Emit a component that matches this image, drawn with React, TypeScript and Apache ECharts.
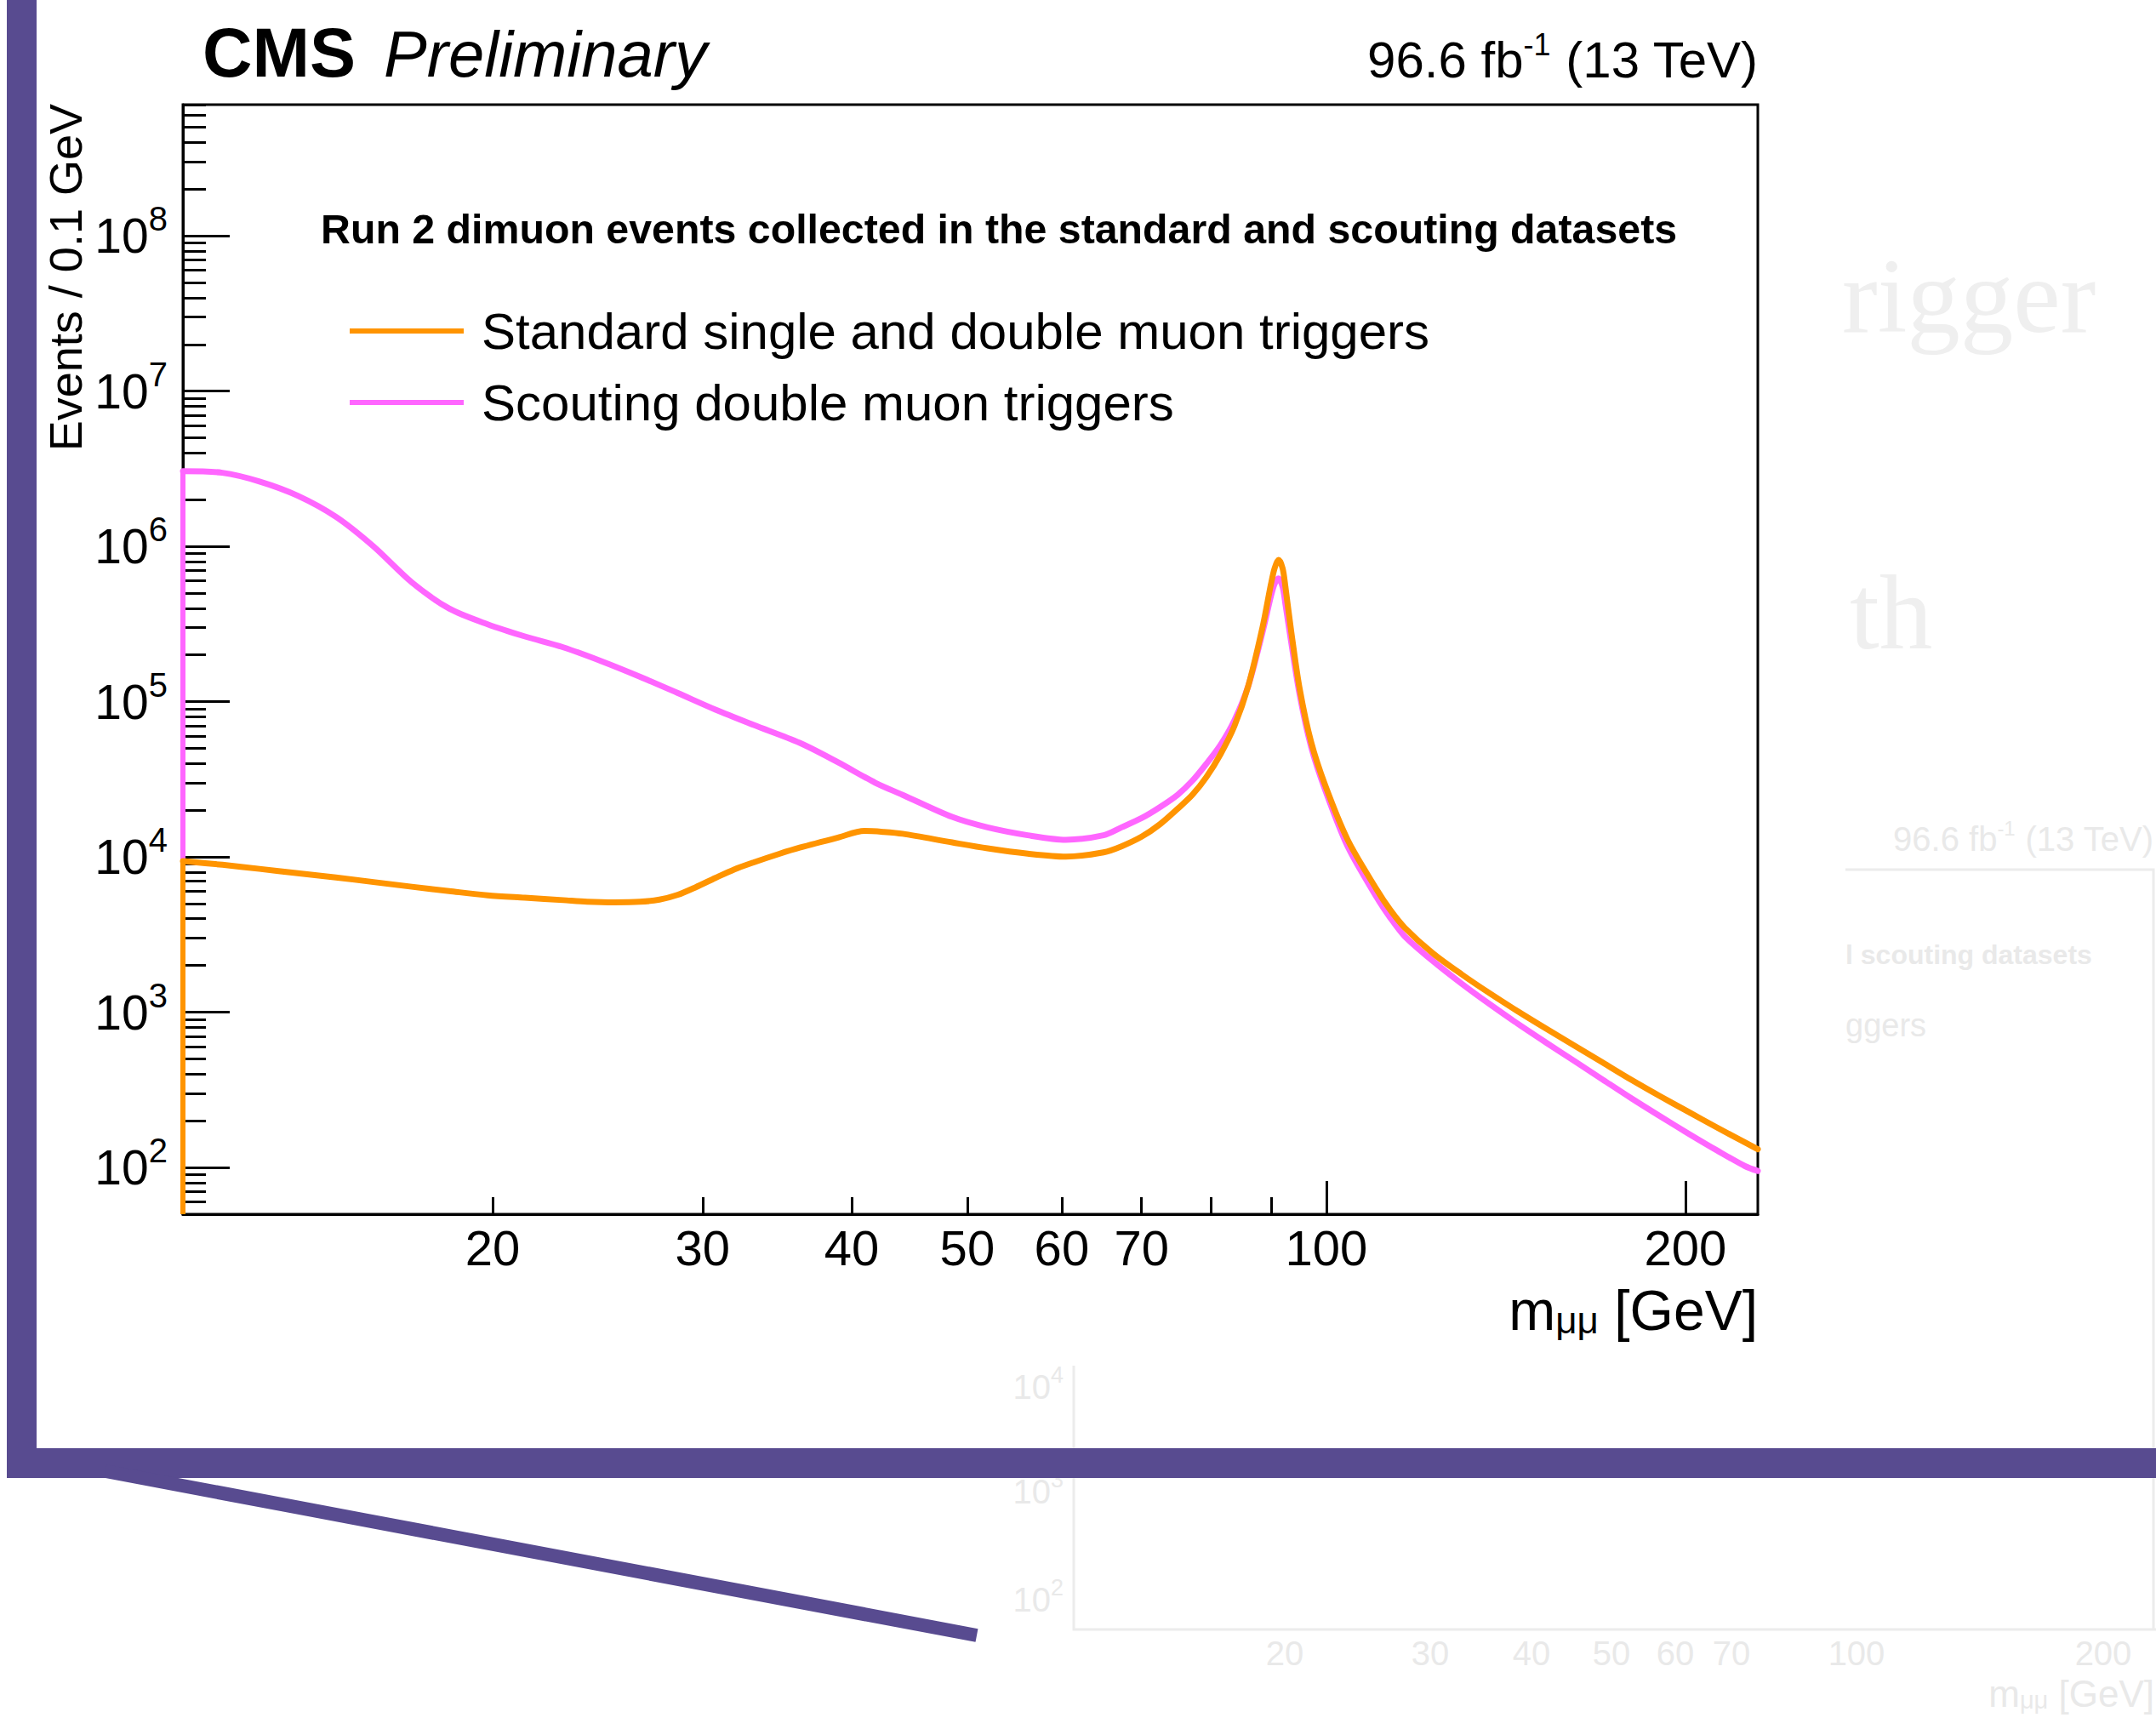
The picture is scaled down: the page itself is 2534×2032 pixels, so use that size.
import React, { useEffect, useRef } from "react";
import * as echarts from "echarts";

const FONT = '"Liberation Sans", Arial, Helvetica, sans-serif';
const SERIF = '"Liberation Serif", "DejaVu Serif", serif';
const ORANGE = "#ff9400";
const PINK = "#ff66ff";
const PURPLE = "#584b90";
const FAINT = "#e9e9e9";

// axis ranges (GeV, events / 0.1 GeV)
const X_MIN = 11;
const X_MAX = 230;
const Y_MIN = 50;
const Y_MAX = 7e8;

// tick positions and labels
const X_LABEL_VALUES = [20, 30, 40, 50, 60, 70, 100, 200];
const X_LONG_TICKS = [100, 200];
const X_SHORT_TICKS = [20, 30, 40, 50, 60, 70, 80, 90];
const Y_DECADE_EXPONENTS = [2, 3, 4, 5, 6, 7, 8];
const Y_MINOR_EXPONENTS = [1, 2, 3, 4, 5, 6, 7, 8];
const Y_MINOR_MULTIPLIERS = [2, 3, 4, 5, 6, 7, 8, 9];

const SERIES_NAMES = [
  "Standard single and double muon triggers",
  "Scouting double muon triggers",
];

// Standard single and double muon triggers
const massStandard = [
  11.0, 11.87, 12.75, 13.73, 14.78, 15.89, 17.11, 18.39, 19.81, 21.29, 22.92,
  24.0, 25.3, 26.57, 27.6, 28.57, 29.6, 30.75, 31.9, 33.11, 34.78, 36.18,
  38.96, 41.0, 42.5, 44.14, 48.56, 52.0, 56.18, 60.49, 65.04, 67.33, 70.01,
  72.5, 75.03, 77.2, 79.33, 81.5, 83.74, 86.0, 88.43, 89.86, 90.5, 91.18,
  91.9, 92.4, 93.45, 95.0, 97.1, 99.8, 104.2, 110.2, 113.1, 116.3, 122.8,
  129.9, 137.0, 144.7, 153.0, 161.6, 170.5, 180.3, 190.4, 201.0, 212.5, 224.4,
  230.0,
];
const eventsStandard = [
  9400, 8900, 8380, 7850, 7380, 6890, 6430, 6030, 5660, 5460, 5270,
  5150, 5100, 5140, 5310, 5690, 6380, 7330, 8320, 9230, 10470, 11480,
  13340, 14700, 14500, 14100, 12400, 11350, 10500, 10050, 10700, 11700, 13500,
  16200, 20400, 25100, 32700, 45700, 69700, 126000, 304000, 571000, 724000, 818000,
  724000, 550000, 282000, 120000, 55000, 28800, 12900, 6170, 4570, 3510, 2400,
  1750, 1327, 1014, 780, 607, 474, 366, 288, 229, 181, 145,
  131,
];

// Scouting double muon triggers
const massScouting = [
  11.0, 11.87, 12.75, 13.73, 14.78, 15.89, 17.11, 18.39, 19.81, 21.29, 22.92,
  24.69, 26.57, 28.57, 30.75, 33.11, 36.18, 38.96, 41.88, 44.14, 48.56, 52.0,
  56.18, 60.49, 65.04, 67.33, 70.01, 72.5, 75.03, 77.2, 79.33, 81.5, 83.74,
  86.0, 88.43, 89.86, 90.5, 91.18, 91.9, 92.4, 93.45, 95.0, 97.1, 99.8,
  104.2, 110.2, 113.1, 116.3, 122.8, 129.9, 137.0, 144.7, 153.0, 161.6, 170.5,
  180.3, 190.4, 201.0, 212.5, 224.4, 230.0,
];
const eventsScouting = [
  3050000, 2980000, 2620000, 2120000, 1550000, 1000000, 587000, 398000, 315000, 263000, 224000,
  182000, 145000, 114000, 88900, 70800, 54300, 40700, 30000, 25100, 18100, 15500,
  13800, 12900, 13800, 15500, 17800, 20900, 25100, 30900, 39800, 52500, 75900,
  126000, 282000, 479000, 575000, 622000, 550000, 427000, 240000, 110000, 51300, 26900,
  11700, 5500, 4070, 3090, 2140, 1524, 1130, 843, 634, 482, 368,
  278, 214, 166, 129, 102, 95,
];

const lg = (v: number) => Math.log10(v);
const toPoints = (ms: number[], vs: number[]) => ms.map((m, i) => [lg(m), lg(vs[i])]);

function buildOption() {
  const yMinorTicks: number[] = [];
  for (const e of Y_MINOR_EXPONENTS) {
    for (const k of Y_MINOR_MULTIPLIERS) {
      const v = k * Math.pow(10, e);
      if (v >= Y_MIN && v <= Y_MAX) yMinorTicks.push(lg(v));
    }
  }
  const xExtent = { min: lg(X_MIN), max: lg(X_MAX) };
  const yExtent = { min: lg(Y_MIN), max: lg(Y_MAX) };
  const tickLine = { color: "#000", width: 3 };

  const lineSeries = (name: string, ms: number[], vs: number[], color: string) => ({
    type: "line",
    name,
    data: toPoints(ms, vs),
    symbol: "none",
    showSymbol: false,
    smooth: 0.3,
    clip: true,
    lineStyle: { color, width: 7, join: "round", cap: "round" },
    itemStyle: { color },
    emphasis: { disabled: true },
    z: 3,
  });
  const edgeSeries = (ms: number[], vs: number[], color: string) => ({
    type: "line",
    data: [
      [lg(ms[0]), lg(Y_MIN)],
      [lg(ms[0]), lg(vs[0])],
    ],
    symbol: "none",
    showSymbol: false,
    clip: false,
    silent: true,
    lineStyle: { color, width: 6 },
    itemStyle: { color },
    z: 3,
  });

  const faintSup = (base: string, exp: string) => `{a|${base}}{b|${exp}}`;

  const graphics: any[] = [
    // faint background slide remnants
    { type: "text", x: 2165, y: 410, z: 1, style: { text: "rigger", fontFamily: SERIF, fontSize: 125, fill: "#efefef", align: "left", verticalAlign: "bottom" } },
    { type: "text", x: 2174, y: 782, z: 1, style: { text: "th", fontFamily: SERIF, fontSize: 125, fill: "#efefef", align: "left", verticalAlign: "bottom" } },
    {
      type: "text", x: 2531, y: 986, z: 1,
      style: {
        text: "{a|96.6 fb}{b|-1}{a| (13 TeV)}", align: "right", verticalAlign: "middle",
        rich: {
          a: { fontFamily: FONT, fontSize: 40, lineHeight: 50, fill: FAINT, color: FAINT },
          b: { fontFamily: FONT, fontSize: 24, lineHeight: 18, verticalAlign: "top", fill: FAINT, color: FAINT },
        },
      },
    },
    { type: "polyline", z: 1, shape: { points: [[2169, 1022], [2531, 1022], [2531, 1915]] }, style: { stroke: "#ececec", lineWidth: 3, fill: null } },
    { type: "text", x: 2169, y: 1122, z: 1, style: { text: "l scouting datasets", fontFamily: FONT, fontWeight: "bold", fontSize: 32, fill: FAINT, align: "left", verticalAlign: "middle" } },
    { type: "text", x: 2169, y: 1205, z: 1, style: { text: "ggers", fontFamily: FONT, fontSize: 38, fill: FAINT, align: "left", verticalAlign: "middle" } },
    { type: "polyline", z: 1, shape: { points: [[1262, 1605], [1262, 1915], [2534, 1915]] }, style: { stroke: "#ececec", lineWidth: 3, fill: null } },
    ...[["4", 1630], ["3", 1753], ["2", 1880]].map(([e, y]) => ({
      type: "text", x: 1250, y: y as number, z: 1,
      style: {
        text: faintSup("10", e as string), align: "right", verticalAlign: "middle",
        rich: {
          a: { fontFamily: FONT, fontSize: 40, lineHeight: 56, fill: FAINT, color: FAINT },
          b: { fontFamily: FONT, fontSize: 27, lineHeight: 30, verticalAlign: "top", fill: FAINT, color: FAINT },
        },
      },
    })),
    ...[["20", 1510], ["30", 1681], ["40", 1800], ["50", 1894], ["60", 1969], ["70", 2035], ["100", 2182], ["200", 2472]].map(([t, x]) => ({
      type: "text", x: x as number, y: 1943, z: 1,
      style: { text: t as string, fontFamily: FONT, fontSize: 40, fill: FAINT, align: "center", verticalAlign: "middle" },
    })),
    {
      type: "text", x: 2532, y: 1990, z: 1,
      style: {
        text: "{a|m}{b|μμ}{a| [GeV]}", align: "right", verticalAlign: "middle",
        rich: {
          a: { fontFamily: FONT, fontSize: 44, lineHeight: 44, verticalAlign: "top", fill: FAINT, color: FAINT },
          b: { fontFamily: FONT, fontSize: 29, lineHeight: 20, verticalAlign: "bottom", fill: FAINT, color: FAINT },
        },
      },
    },

    // main plot texts
    { type: "text", x: 238, y: 62, z: 10, style: { text: "CMS", fontFamily: FONT, fontWeight: "bold", fontSize: 81, fill: "#000", align: "left", verticalAlign: "middle" } },
    { type: "text", x: 451, y: 63, z: 10, style: { text: "Preliminary", fontFamily: FONT, fontStyle: "italic", fontSize: 76, fill: "#000", align: "left", verticalAlign: "middle" } },
    {
      type: "text", x: 2066, y: 70, z: 10,
      style: {
        text: "{a|96.6 fb}{b|-1}{a| (13 TeV)}", align: "right", verticalAlign: "middle",
        rich: {
          a: { fontFamily: FONT, fontSize: 60, lineHeight: 72, fill: "#000", color: "#000" },
          b: { fontFamily: FONT, fontSize: 36, lineHeight: 26, verticalAlign: "top", fill: "#000", color: "#000" },
        },
      },
    },
    { type: "text", x: 377, y: 269, z: 10, style: { text: "Run 2 dimuon events collected in the standard and scouting datasets", fontFamily: FONT, fontWeight: "bold", fontSize: 48.3, fill: "#000", align: "left", verticalAlign: "middle" } },
    { type: "text", x: 77, y: 122, z: 10, rotation: Math.PI / 2, style: { text: "Events / 0.1 GeV", fontFamily: FONT, fontSize: 54, fill: "#000", align: "right", verticalAlign: "middle" } },
    {
      type: "text", x: 2066, y: 1540, z: 10,
      style: {
        text: "{a|m}{b|μμ}{a| [GeV]}", align: "right", verticalAlign: "middle",
        rich: {
          a: { fontFamily: FONT, fontSize: 66, lineHeight: 66, verticalAlign: "top", fill: "#000", color: "#000" },
          b: { fontFamily: FONT, fontSize: 44, lineHeight: 28, verticalAlign: "bottom", fill: "#000", color: "#000" },
        },
      },
    },

    // purple annotation frame
    { type: "rect", z: 100, shape: { x: 8, y: 0, width: 35, height: 1737 }, style: { fill: PURPLE } },
    { type: "rect", z: 100, shape: { x: 8, y: 1702, width: 2526, height: 35 }, style: { fill: PURPLE } },
    { type: "line", z: 100, shape: { x1: 124, y1: 1729, x2: 1148, y2: 1922 }, style: { stroke: PURPLE, lineWidth: 16, lineCap: "butt" } },
  ];

  return {
    animation: false,
    backgroundColor: "#ffffff",
    grid: {
      left: 215,
      top: 123,
      width: 1851,
      height: 1304,
      show: true,
      borderColor: "#000",
      borderWidth: 3,
      backgroundColor: "transparent",
      containLabel: false,
      outerBoundsMode: "none",
    },
    legend: {
      data: SERIES_NAMES,
      orient: "vertical",
      left: 406,
      top: 354,
      itemWidth: 134,
      itemHeight: 6,
      itemGap: 24,
      icon: "rect",
      selectedMode: false,
      textStyle: { fontFamily: FONT, fontSize: 60, lineHeight: 58, color: "#000", padding: [0, 0, 0, 16] },
    },
    xAxis: [
      {
        type: "value",
        position: "bottom",
        ...xExtent,
        axisLine: { show: true, onZero: false, lineStyle: { color: "#000", width: 3 } },
        axisTick: { show: true, inside: true, length: 39, lineStyle: tickLine, customValues: X_LONG_TICKS.map(lg) },
        axisLabel: {
          show: true,
          customValues: X_LABEL_VALUES.map(lg),
          formatter: (v: number) => String(Math.round(Math.pow(10, v))),
          fontFamily: FONT,
          fontSize: 58,
          lineHeight: 58,
          color: "#000",
          margin: 10,
        },
        splitLine: { show: false },
      },
      {
        type: "value",
        position: "bottom",
        ...xExtent,
        axisLine: { show: false },
        axisTick: { show: true, inside: true, length: 20, lineStyle: tickLine, customValues: X_SHORT_TICKS.map(lg) },
        axisLabel: { show: false },
        splitLine: { show: false },
      },
    ],
    yAxis: [
      {
        type: "value",
        position: "left",
        ...yExtent,
        axisLine: { show: true, onZero: false, lineStyle: { color: "#000", width: 3 } },
        axisTick: { show: true, inside: true, length: 55, lineStyle: tickLine, customValues: Y_DECADE_EXPONENTS },
        axisLabel: {
          show: true,
          customValues: Y_DECADE_EXPONENTS,
          margin: 18,
          formatter: (v: number) => `{b|10}{s|${Math.round(v)}}`,
          rich: {
            b: { fontFamily: FONT, fontSize: 57, lineHeight: 80, color: "#000" },
            s: { fontFamily: FONT, fontSize: 40, lineHeight: 43, verticalAlign: "top", color: "#000" },
          },
        },
        splitLine: { show: false },
      },
      {
        type: "value",
        position: "left",
        ...yExtent,
        axisLine: { show: false },
        axisTick: { show: true, inside: true, length: 27, lineStyle: tickLine, customValues: yMinorTicks },
        axisLabel: { show: false },
        splitLine: { show: false },
      },
    ],
    series: [
      lineSeries(SERIES_NAMES[1], massScouting, eventsScouting, PINK),
      edgeSeries(massScouting, eventsScouting, PINK),
      lineSeries(SERIES_NAMES[0], massStandard, eventsStandard, ORANGE),
      edgeSeries(massStandard, eventsStandard, ORANGE),
    ],
    graphic: { elements: graphics },
  };
}

export default function App() {
  const ref = useRef<HTMLDivElement>(null);
  useEffect(() => {
    if (!ref.current) return;
    const chart = echarts.init(ref.current, null, { renderer: "svg" });
    chart.setOption(buildOption() as any);
    return () => chart.dispose();
  }, []);
  return (
    <div
      ref={ref}
      style={{ position: "fixed", left: 0, top: 0, width: 2534, height: 2032, background: "#fff" }}
    />
  );
}
